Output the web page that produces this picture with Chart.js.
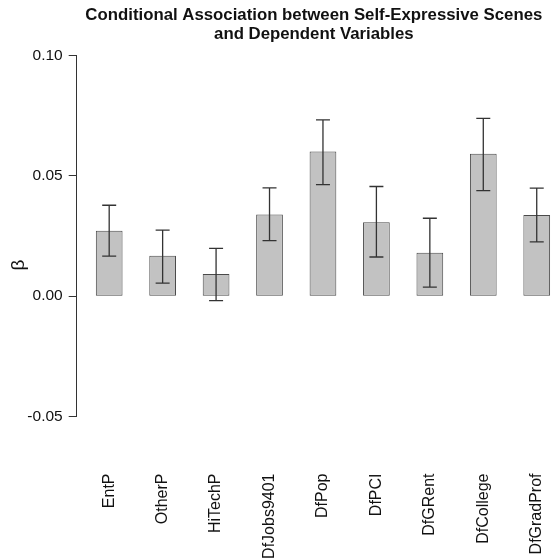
<!DOCTYPE html>
<html>
<head>
<meta charset="utf-8">
<script src="https://cdn.jsdelivr.net/npm/chart.js@4.4.1/dist/chart.umd.min.js"></script>
<style>
  html, body { margin: 0; padding: 0; background: #fff; }
</style>
</head>
<body>
<canvas id="betaChart" width="551" height="560"></canvas>
<script>
// values
const labels = ["EntP", "OtherP", "HiTechP", "DfJobs9401", "DfPop", "DfPCI", "DfGRent", "DfCollege", "DfGradProf"];
const beta = [0.0272, 0.0168, 0.0092, 0.0340, 0.0601, 0.0307, 0.0181, 0.0592, 0.0338];
const upper = [0.0378, 0.0275, 0.0199, 0.0450, 0.0733, 0.0456, 0.0324, 0.0739, 0.0449];
const lower = [0.0167, 0.0054, -0.0018, 0.0231, 0.0464, 0.0163, 0.0038, 0.0439, 0.0226];
const yTicks = [-0.05, 0, 0.05, 0.1];

const FONT = "'Liberation Sans', Arial, Helvetica, sans-serif";

// whiskers for each bar
const errorBars = {
  id: "errorBars",
  afterDatasetsDraw(chart) {
    const meta = chart.getDatasetMeta(0);
    const yScale = chart.scales.y;
    const ctx = chart.ctx;
    ctx.save();
    ctx.strokeStyle = "#333";
    ctx.lineWidth = 1.3;
    meta.data.forEach((bar, i) => {
      const yHi = yScale.getPixelForValue(upper[i]);
      const yLo = yScale.getPixelForValue(lower[i]);
      const half = 7;
      ctx.beginPath();
      ctx.moveTo(bar.x, yHi);
      ctx.lineTo(bar.x, yLo);
      ctx.moveTo(bar.x - half, yHi);
      ctx.lineTo(bar.x + half, yHi);
      ctx.moveTo(bar.x - half, yLo);
      ctx.lineTo(bar.x + half, yLo);
      ctx.stroke();
    });
    ctx.restore();
  },
};

// y axis label, placed like R's ylab
const betaLabel = {
  id: "betaLabel",
  afterDraw(chart) {
    const { ctx, chartArea } = chart;
    ctx.save();
    ctx.translate(19, (chartArea.top + chartArea.bottom) / 2 + 29);
    ctx.rotate(-Math.PI / 2);
    ctx.font = "19px " + FONT;
    ctx.fillStyle = "#111";
    ctx.textAlign = "center";
    ctx.textBaseline = "middle";
    ctx.fillText("\u03b2", 0, 0);
    ctx.restore();
  },
};

const ctx = document.getElementById("betaChart").getContext("2d");
const chart = new Chart(ctx, {
  type: "bar",
  data: {
    datasets: [
      {
        data: beta.map((v, i) => ({ x: i, y: v })),
        backgroundColor: "#c2c2c2",
        borderColor: "#4a4a4a",
        borderWidth: 1,
        borderSkipped: false,
        categoryPercentage: 1,
        barPercentage: 0.5,
      },
    ],
  },
  options: {
    responsive: false,
    animation: false,
    layout: { padding: 0 },
    plugins: {
      legend: { display: false },
      tooltip: { enabled: false },
      title: {
        display: true,
        fullSize: false,
        text: ["Conditional Association between Self-Expressive Scenes", "and Dependent Variables"],
        color: "#111",
        font: { family: FONT, size: 16.8, weight: "bold", lineHeight: 1.12 },
        padding: { top: 6, bottom: 12 },
      },
    },
    scales: {
      x: {
        type: "linear",
        offset: false,
        min: -0.608,
        max: 8.267,
        grid: { display: false, drawTicks: false },
        border: { display: false },
        afterBuildTicks: (scale) => {
          scale.ticks = labels.map((_, i) => ({ value: i }));
        },
        afterFit: (scale) => {
          scale.height = 143.5;
          scale.paddingLeft = 0;
          scale.paddingRight = 0;
        },
        ticks: {
          autoSkip: false,
          minRotation: 90,
          maxRotation: 90,
          padding: 57,
          color: "#111",
          font: { family: FONT, size: 16 },
          callback: (v) => labels[v],
        },
      },
      y: {
        min: -0.05,
        max: 0.1,
        grid: {
          drawOnChartArea: false,
          drawTicks: true,
          tickLength: 8,
          color: "#333",
        },
        border: { display: true, color: "#333", width: 1 },
        afterBuildTicks: (scale) => {
          scale.ticks = yTicks.map((v) => ({ value: v }));
        },
        afterFit: (scale) => {
          scale.width = 76.7;
        },
        ticks: {
          padding: 6,
          color: "#111",
          font: { family: FONT, size: 15.5 },
          callback: (v) => v.toFixed(2),
        },
      },
    },
  },
  plugins: [errorBars, betaLabel],
});
</script>
</body>
</html>
